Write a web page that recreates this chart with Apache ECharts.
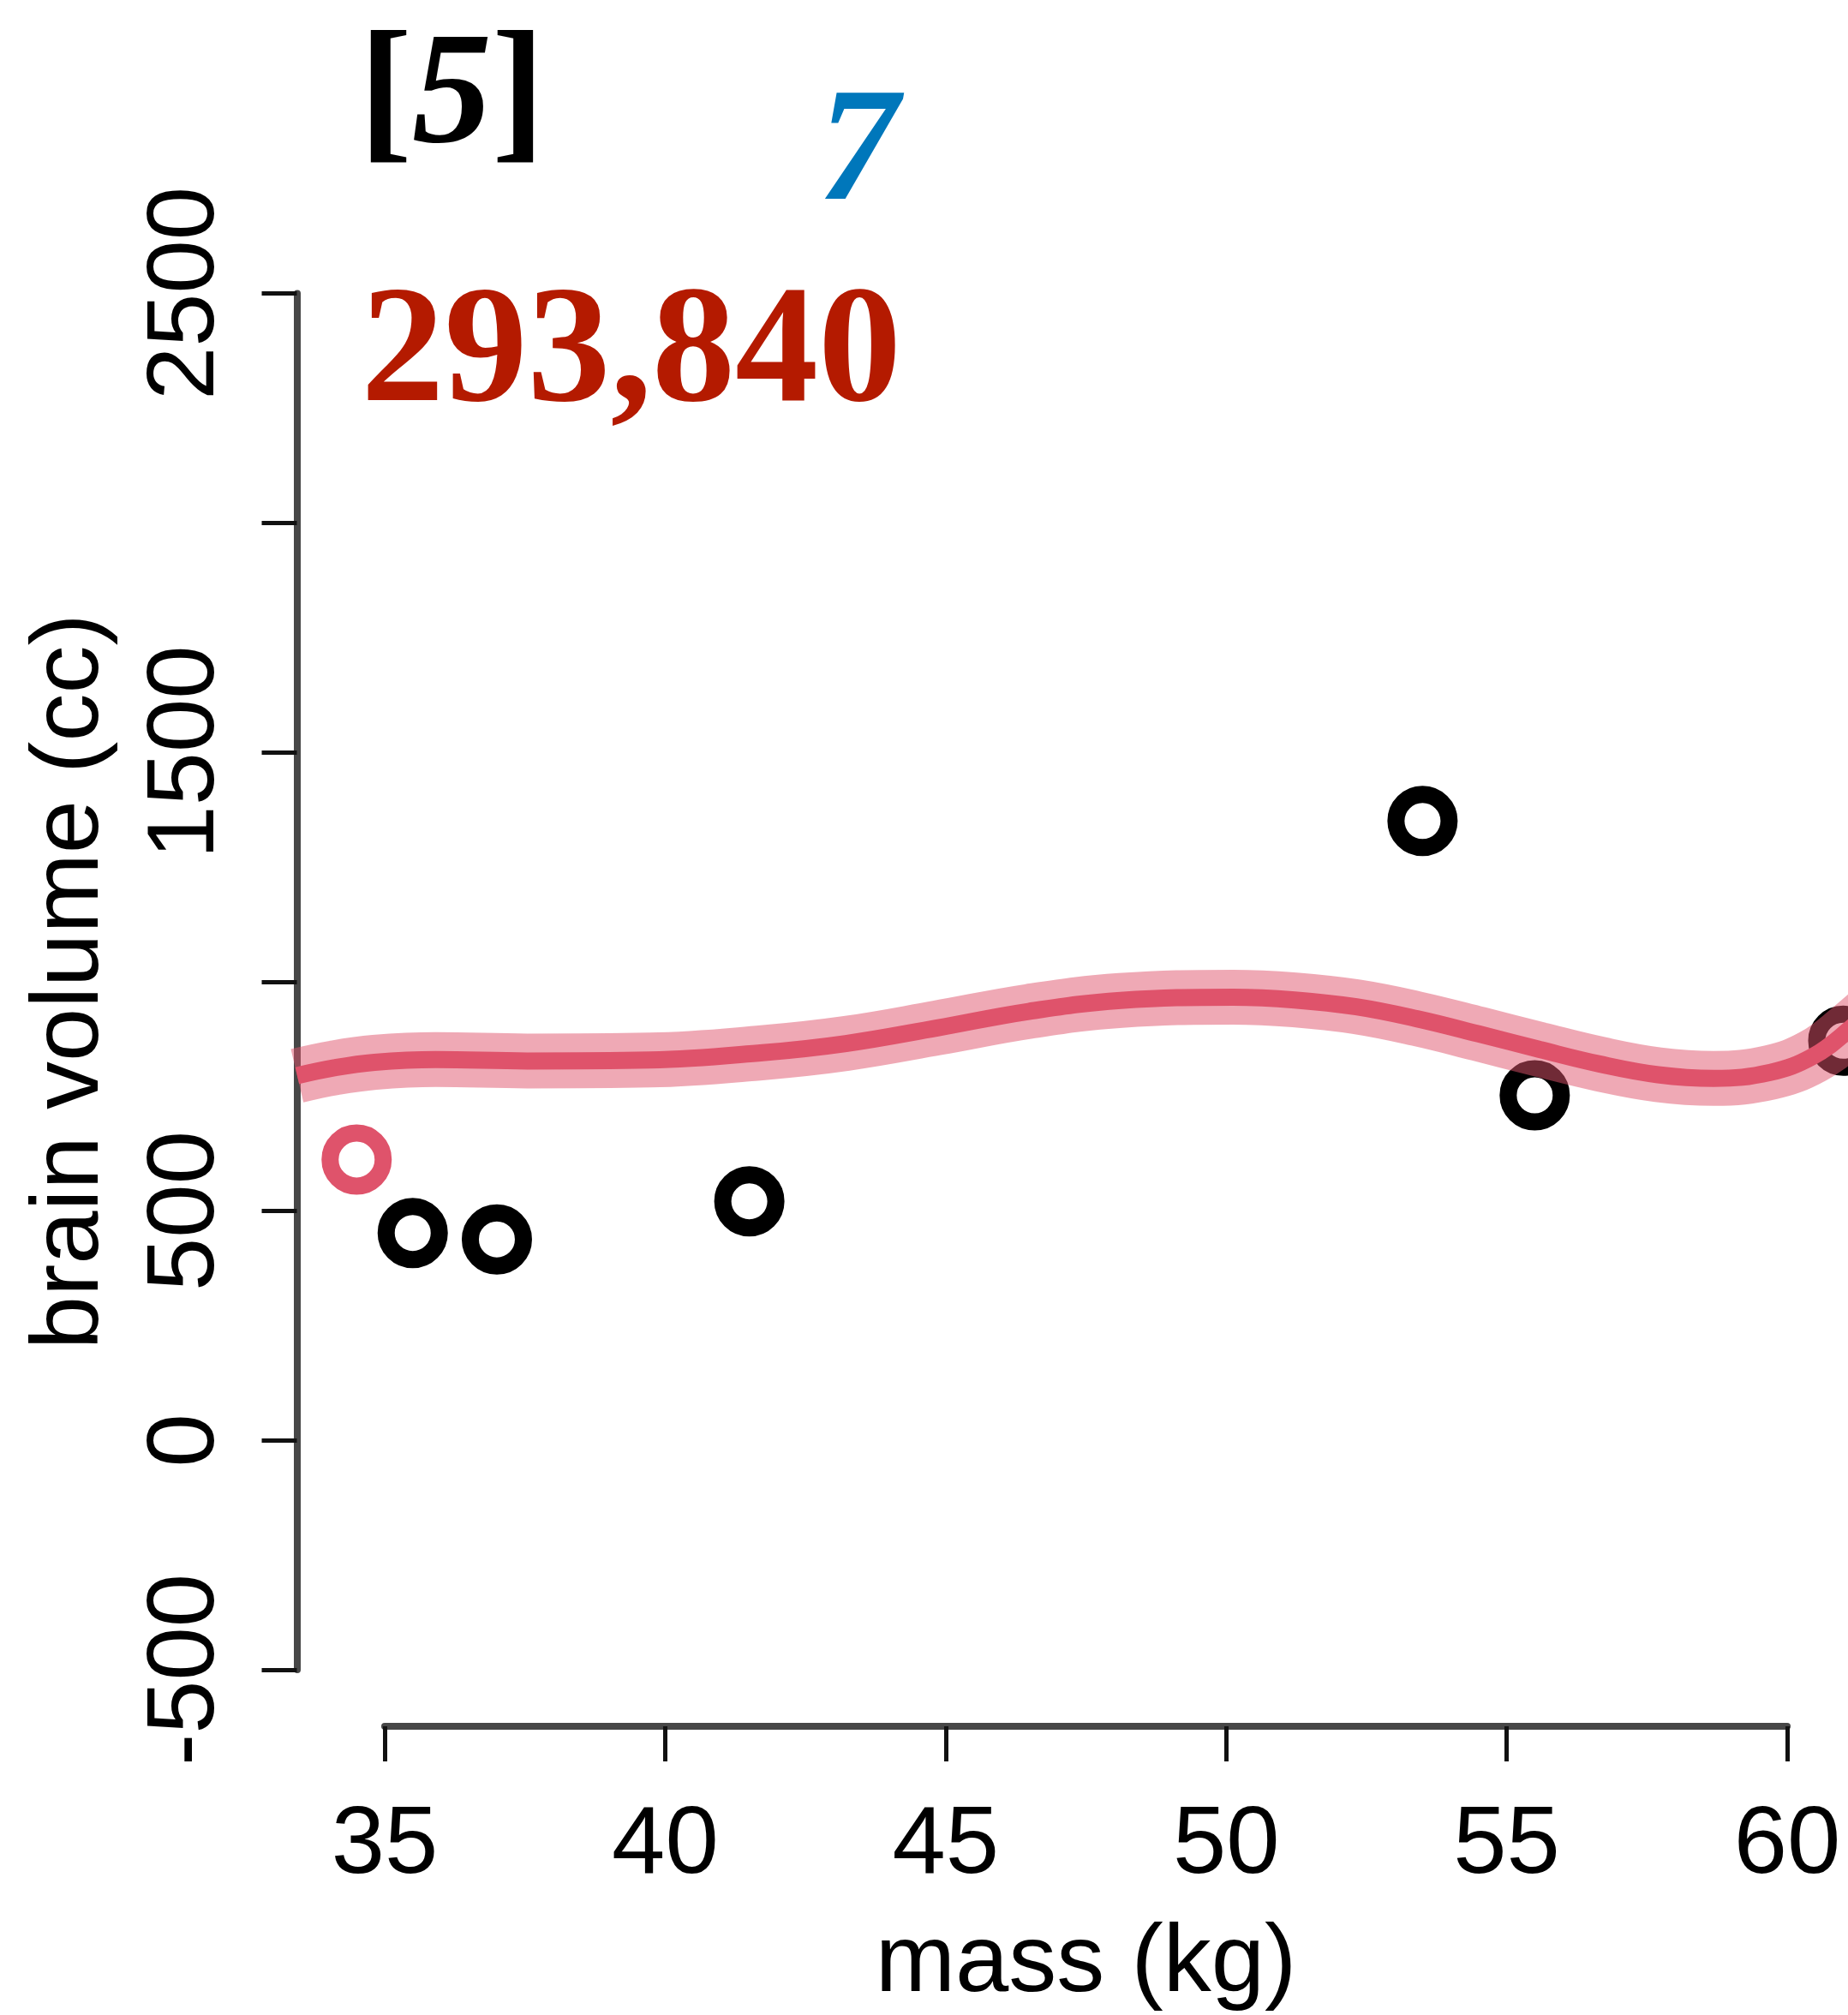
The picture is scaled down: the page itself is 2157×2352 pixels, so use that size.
<!DOCTYPE html>
<html>
<head>
<meta charset="utf-8">
<script src="https://cdn.jsdelivr.net/npm/echarts@6/dist/echarts.min.js"></script>
<style>
  html, body { margin: 0; padding: 0; background: #fff; }
  #chart { width: 2157px; height: 2352px; }
</style>
</head>
<body>
<div id="chart"></div>
<script>
// hominin points (the one left out is drawn in red)
const massKg = [35.5, 37.0, 41.5, 53.5, 55.5, 61.0];
const brainCc = [452, 438, 521, 1350, 752, 871];
const heldOutMass = [34.5];
const heldOutBrain = [612];

// fitted curve
const curveMass = [33.44, 34.1, 34.82, 35.91, 37.54, 39.73, 41.74, 43.22, 44.85, 46.48, 48.12, 50.13,
  51.22, 52.32, 53.4, 54.5, 55.59, 56.67, 57.7, 58.69, 59.7, 60.46, 61.08, 62.06];
const curveBrain = [795, 812, 824, 830, 827, 829, 845, 865, 899, 935, 959, 966,
  960, 945, 919, 886, 852, 820, 797, 789, 802, 837, 893, 1000];

// tick labels (R drops 1000 and 2000 because they would overlap)
const xTickValues = [35, 40, 45, 50, 55, 60];
const yTickValues = [-500, 0, 500, 1000, 1500, 2000, 2500];
const yLabelValues = [-500, 0, 500, 1500, 2500];

const headLabel = "5";
const blueLabel = "7";
const redLabel = "293,840";

const pairs = (xs, ys) => xs.map((x, i) => [x, ys[i]]);
const RED = "#DF536B";
const axisFont = "Liberation Sans";

// pixel scale: 35..60 kg -> 449..2086, -500..2500 cc -> 1949..342.5
const pxKg = (2086 - 449) / 25;
const pxCc = (1949 - 342.5) / 3000;

let chart = echarts.init(document.getElementById("chart"));

let axisCommon = {
  type: "value",
  nameLocation: "middle",
  nameTextStyle: { fontFamily: axisFont, fontSize: 112, color: "#000" },
  axisLine: { show: true, onZero: false, lineStyle: { color: "#474747", width: 8 } },
  axisTick: { show: true, length: 41, lineStyle: { color: "#111", width: 5 } },
  splitLine: { show: false },
};

chart.setOption({
  backgroundColor: "#fff",
  animation: false,
  grid: [
    // data region, wider than the axes (like R's 4% padding); runs off the right edge
    {
      left: 449 - 2 * pxKg, width: 30 * pxKg,
      top: 342.5 - 200 * pxCc, height: 3400 * pxCc,
      outerBoundsMode: "none",
    },
    // axes region: ticks span exactly 35..60 and -500..2500
    { left: 449, width: 2086 - 449, top: 342.5, height: 1949 - 342.5, outerBoundsMode: "none" },
  ],
  xAxis: [
    { gridIndex: 0, type: "value", min: 33, max: 63, show: false },
    Object.assign({}, axisCommon, {
      gridIndex: 1,
      min: 35, max: 60, interval: 5,
      offset: 66,
      name: "mass (kg)",
      nameGap: 222,
      axisTick: Object.assign({}, axisCommon.axisTick, { customValues: xTickValues }),
      axisLabel: {
        fontFamily: axisFont, fontSize: 112, color: "#000", margin: 84,
        customValues: xTickValues, formatter: (v) => String(v),
      },
    }),
  ],
  yAxis: [
    { gridIndex: 0, type: "value", min: -700, max: 2700, show: false },
    Object.assign({}, axisCommon, {
      gridIndex: 1,
      min: -500, max: 2500, interval: 500,
      offset: 102.5,
      name: "brain volume (cc)",
      nameRotate: 90,
      nameGap: 207,
      axisTick: Object.assign({}, axisCommon.axisTick, { customValues: yTickValues }),
      axisLabel: {
        fontFamily: axisFont, fontSize: 112, color: "#000", margin: 72, rotate: 90,
        customValues: yLabelValues, formatter: (v) => String(v),
      },
    }),
  ],
  graphic: [
    {
      type: "text",
      style: {
        x: 419, y: 117,
        text: "{b|[}{i|" + headLabel + "}{b|]}",
        verticalAlign: "middle",
        rich: {
          b: { font: 'bold 186px "Liberation Serif"', fill: "#000" },
          i: { font: 'italic bold 186px "Liberation Serif"', fill: "#000" },
        },
      },
    },
    {
      type: "text",
      style: {
        x: 1049, y: 183,
        text: blueLabel,
        align: "right",
        verticalAlign: "middle",
        font: 'italic bold 188px "Liberation Serif"',
        fill: "#0077BB",
      },
    },
    {
      type: "text",
      style: {
        x: 1052, y: 417,
        text: redLabel,
        align: "right",
        verticalAlign: "middle",
        font: 'bold 194px "Liberation Serif"',
        fill: "#B41A00",
      },
    },
  ],
  series: [
    {
      name: "points",
      type: "scatter",
      xAxisIndex: 0, yAxisIndex: 0,
      z: 2,
      symbol: "circle",
      symbolSize: 62,
      itemStyle: { color: "rgba(255,255,255,0)", borderColor: "#000", borderWidth: 20, opacity: 1 },
      data: pairs(massKg, brainCc),
    },
    {
      name: "held out",
      type: "scatter",
      xAxisIndex: 0, yAxisIndex: 0,
      z: 2,
      symbol: "circle",
      symbolSize: 62,
      itemStyle: { color: "rgba(255,255,255,0)", borderColor: RED, borderWidth: 20, opacity: 1 },
      data: pairs(heldOutMass, heldOutBrain),
    },
    {
      name: "band",
      type: "line",
      xAxisIndex: 0, yAxisIndex: 0,
      z: 3,
      smooth: 0.4,
      showSymbol: false,
      lineStyle: { color: "rgba(223,83,107,0.5)", width: 64 },
      data: pairs(curveMass, curveBrain),
    },
    {
      name: "fit",
      type: "line",
      xAxisIndex: 0, yAxisIndex: 0,
      z: 4,
      smooth: 0.4,
      showSymbol: false,
      lineStyle: { color: RED, width: 20 },
      data: pairs(curveMass, curveBrain),
    },
  ],
});
</script>
</body>
</html>
